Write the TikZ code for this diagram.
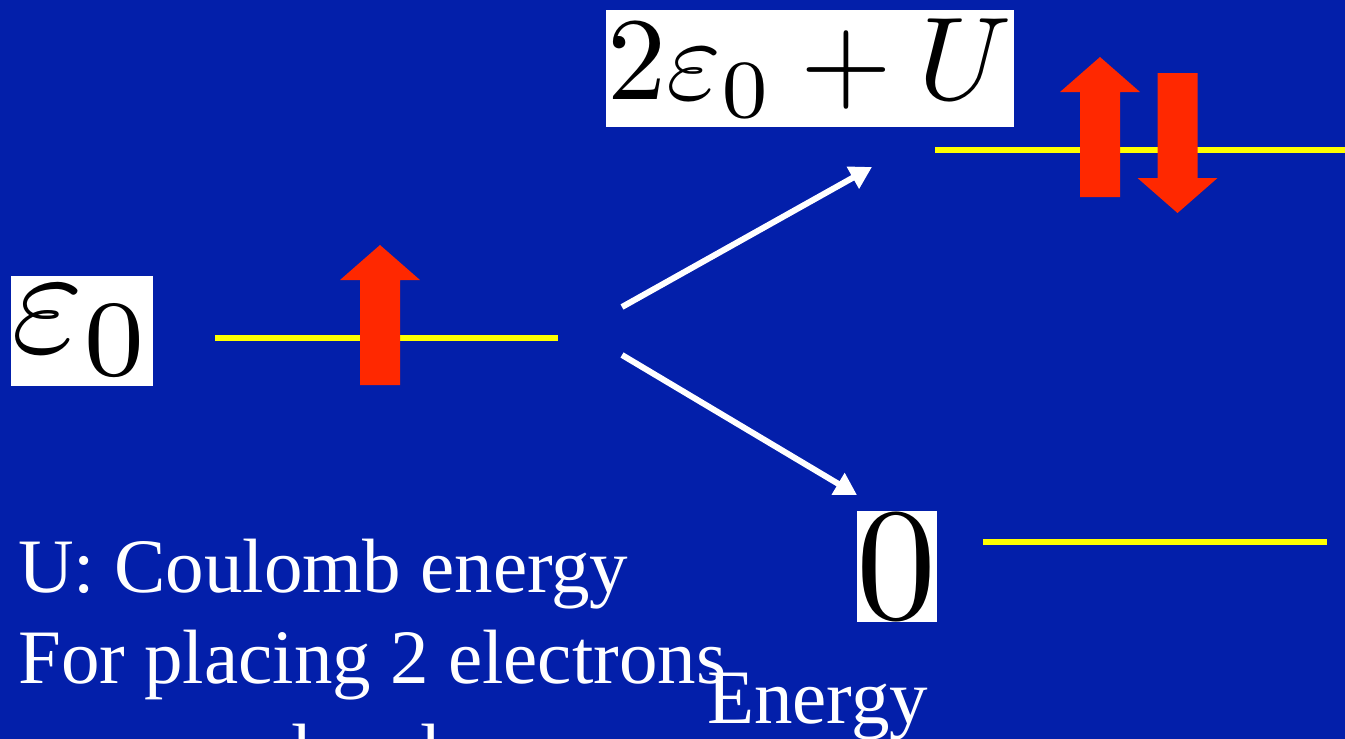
\documentclass[tikz,border=0pt]{standalone}
\usepackage[no-math]{fontspec}
\setmainfont{Liberation Serif}
\usetikzlibrary{arrows.meta}

\definecolor{slideblue}{RGB}{3,31,170}
\definecolor{spinred}{RGB}{255,40,0}
\definecolor{levelyellow}{RGB}{255,255,0}

% spin arrows: centre x, foot y, tip y
\newcommand{\spinup}[3]{%
  \fill[spinred] ({#1-20},#2) -- ({#1+20},#2) -- ({#1+20},{#3+35}) -- ({#1+40},{#3+35})
    -- (#1,#3) -- ({#1-40},{#3+35}) -- ({#1-20},{#3+35}) -- cycle;}
\newcommand{\spindown}[3]{%
  \fill[spinred] ({#1-20},#2) -- ({#1+20},#2) -- ({#1+20},{#3-35}) -- ({#1+40},{#3-35})
    -- (#1,#3) -- ({#1-40},{#3-35}) -- ({#1-20},{#3-35}) -- cycle;}

\begin{document}
\begin{tikzpicture}[x=1pt, y=-1pt,
    orbital/.style={levelyellow, line width=5.5pt},
    jump/.style={white, line width=6pt, -{Triangle[length=22pt,width=24pt]}},
    mathbox/.style={fill=white, text=black, inner sep=0pt},
    caption/.style={white, anchor=base west, inner sep=0pt, font=\fontsize{77}{92}\selectfont}]
    \useasboundingbox (0,0) rectangle (1345,739);
    \clip (0,0) rectangle (1345,739);
    \fill[slideblue] (0,0) rectangle (1345,739);

    % energy labels
    \node[mathbox, minimum width=142pt, minimum height=110pt] (single) at (82,331) {\scalebox{15.5}{$\varepsilon_0$}};
    \node[mathbox, minimum width=408pt, minimum height=117pt] (double) at (810,68.5) {\scalebox{11.8}{$2\varepsilon_0+U$}};
    \node[mathbox, minimum width=79pt, minimum height=111pt] (empty) at (896.5,566.5) {\scalebox{16}{$0$}};

    % levels
    \draw[orbital] (215,338) -- (558,338);
    \draw[orbital] (935,150) -- (1345,150);
    \draw[orbital] (983,542) -- (1327,542);

    % electrons
    \spinup{380}{385}{245}
    \spinup{1100}{197}{57}
    \spindown{1177.5}{73}{213}

    % transitions
    \coordinate (fork up) at (622,307);
    \coordinate (fork down) at (622,355);
    \coordinate (to double) at (872,167);
    \coordinate (to empty) at (857,495);
    \draw[jump] (fork up) -- (to double);
    \draw[jump] (fork down) -- (to empty);

    % text
    \node[caption] (line one) at (18,592) {U: Coulomb energy};
    \node[caption] (line two) at (18,683) {For placing 2 electrons};
    \node[caption] (line three) at (18,777) {on same level};
    \node[caption] (axis) at (707,723) {Energy};
\end{tikzpicture}
\end{document}
